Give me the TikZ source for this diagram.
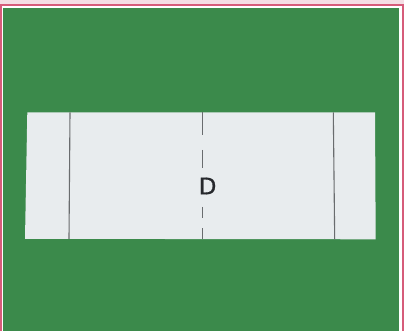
\documentclass[tikz,border=0pt]{standalone}
\usepackage{fontspec}
\setmainfont{DejaVu Sans}
\newfontfamily\lblfont[FakeBold=0.8]{DejaVu Sans}
\definecolor{bggreen}{RGB}{59,138,75}
\definecolor{sheet}{RGB}{232,236,238}
\definecolor{rim}{RGB}{214,92,122}
\definecolor{rimlight}{RGB}{244,222,228}
\definecolor{fold}{RGB}{105,108,110}
\definecolor{ink}{RGB}{38,40,44}
\tikzset{
  foldline/.style={draw=fold, line width=1.1pt},
  dashline/.style={draw=fold, line width=1.1pt},
  lbl/.style={font=\lblfont\fontsize{23}{24}\selectfont, text=ink, inner sep=0pt}
}
\begin{document}
\begin{tikzpicture}[x=1pt,y=-1pt]
\useasboundingbox (0,0) rectangle (404,331);
\fill[white] (0,0) rectangle (404,331);
\fill[rimlight] (0,0) rectangle (404,4);
\draw[rim, line width=2pt] (1,331) -- (1,5) -- (402.5,5) -- (402.5,331);
\fill[bggreen] (3,8) rectangle (398.5,331);
% sheet
\coordinate (tl) at (27.3,112.3);
\coordinate (tr) at (375,112.3);
\coordinate (br) at (375.7,239.3);
\coordinate (bl) at (25,238.8);
\fill[sheet] (tl) -- (tr) -- (br) -- (bl) -- cycle;
% folds
\coordinate (l1) at (70,112.3);
\coordinate (l2) at (69,238.8);
\coordinate (r1) at (333.3,112.3);
\coordinate (r2) at (334.7,239.3);
\draw[foldline] (l1) -- (l2);
\draw[foldline] (r1) -- (r2);
% dashed center
\coordinate (d1a) at (202.3,112.3);
\coordinate (d1b) at (202.3,135);
\coordinate (d2a) at (202.3,150);
\coordinate (d2b) at (202.3,168);
\coordinate (d3a) at (202.5,207);
\coordinate (d3b) at (202.5,218);
\coordinate (d4a) at (202.7,228);
\coordinate (d4b) at (202.7,239.2);
\draw[dashline] (d1a) -- (d1b);
\draw[dashline] (d2a) -- (d2b);
\draw[dashline] (d3a) -- (d3b);
\draw[dashline] (d4a) -- (d4b);
\node[lbl] (D) at (207.6,186) {D};
\end{tikzpicture}
\end{document}
